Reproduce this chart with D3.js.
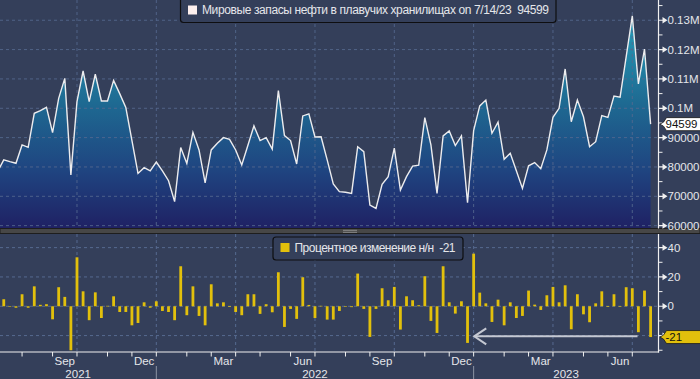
<!DOCTYPE html>
<html>
<head>
<meta charset="utf-8">
<script src="https://cdn.jsdelivr.net/npm/d3@7"></script>
<style>
  body { margin: 0; background: #343f5a; }
  svg { display: block; font-family: "Liberation Sans", Arial, sans-serif; }
  text { white-space: pre; }
</style>
</head>
<body>
<div id="chart"></div>
<script>
// Weekly floating storage (barrels), first point is just off the left edge
var firstWeek = new Date(2021, 5, 25),
    lastWeek = new Date(2023, 6, 14);
var dates = d3.timeFriday.range(firstWeek, d3.timeDay.offset(lastWeek, 1));

var storage = [78500,
  82400, 81800, 81250, 87500, 86700, 98300, 99200, 100300, 91700, 103400,
  110200, 77300, 102300, 112700, 102300, 111600, 102500, 102500, 109500, 105000,
  100300, 89100, 77800, 79750, 78700, 81700, 78700, 75300, 68200, 86600,
  81200, 91800, 85800, 74600, 85800, 88100, 90000, 89400, 85800, 80700,
  87300, 94000, 89000, 90000, 86100, 106000, 90700, 89000, 81000, 97400,
  98100, 90200, 90300, 82400, 74200, 71600, 71400, 71000, 86900, 85200,
  67000, 65900, 74100, 76700, 86400, 72100, 76700, 80300, 80600, 96800,
  87500, 71000, 90600, 92300, 87300, 90600, 67800, 92400, 100800, 102800,
  91500, 95300, 82600, 84700, 78700, 72700, 80400, 81500, 79400, 85800,
  96900, 100000, 113400, 95400, 102800, 97100, 86900, 88600, 97500, 96900,
  104200, 103800, 117600, 131500, 108300, 120200, 94599];

// Week-over-week change, %
var weeklyChange = [null,
  4.8, -0.2, -1, 8.2, -1, 13.6, 1, 1.4, -8.9, 13,
  6.4, -30, 33.4, 10.2, -9.5, 9.5, -8, 0.3, 6.8, -3.9,
  -3.9, -13, -11.4, 2.7, -1, 3.4, -3.2, -3.9, -9.5, 27.3,
  -6.1, 13.6, -6.6, -13, 15, 2, 2.7, -0.5, -3.9, -6.1,
  8.2, 8.2, -5.2, 1.4, -4.1, 23.2, -14.1, -1.8, -8.6, 19.8,
  0.9, -8, 0.3, -9.1, -9.1, -3.2, -0.3, -0.6, 22.3, -1.8,
  -20.9, -1.8, 12.3, 4.1, 13.2, -15.9, 6.8, 4.1, 0.7, 20.5,
  -10, -18.2, 27.3, 2.7, -5, 3.4, -25, 35.9, 9.3, 2,
  -10.7, 4.5, -13, 2.7, -8, -6.6, 10.7, 1.1, -2.5, 7.5,
  13.2, 2.7, 14.3, -15.7, 8.2, -5.5, -10.9, 2, 10.2, -0.5,
  8.2, -0.4, 13, 12.3, -17.7, 10.7, -21];

var storageTicks = [60000, 70000, 80000, 90000, 100000, 110000, 120000, 130000];
var storageMinor = [65000, 75000, 85000, 95000, 105000, 115000, 125000, 135000];
var changeTicks = [-20, 0, 20, 40];
var changeLabels = [0, 20, 40];   // -20 sits under the last-value tag
var changeMinor = [-30, -10, 10, 30];
var monthLabels = ["Sep", "Dec", "Mar", "Jun"];
var years = ["2021", "2022", "2023"];

var titleTop = "Мировые запасы нефти в плавучих хранилищах on 7/14/23  94599";
var titleBottom = "Процентное изменение н/н  -21";

var W = 700, H = 379,
    axisX = 658.5,
    panelTop = {y0: 0, y1: 228},
    panelBot = {y0: 234, y1: 352};

var bg = "#343f5a", gridColor = "#566a90", textColor = "#e4e6ea", barColor = "#e2c00c";

var data = dates.map(function (d, i) {
  return {date: d, value: storage[i], change: weeklyChange[i]};
});

var x = d3.scaleTime()
  .domain([dates[1], dates[dates.length - 1]])
  .range([3.76, 650.6]);

var yTop = d3.scaleLinear().domain([59200, 136900]).range([panelTop.y1, panelTop.y0]);
var yBot = d3.scaleLinear().domain([-31.2, 49.3]).range([panelBot.y1, panelBot.y0]);

// month ticks sit on the weekly grid
function tickX(m) {
  return x(d3.timeDay.offset(d3.timeSunday.ceil(m), -9));
}
var months = d3.timeMonth.range(new Date(2021, 7, 1), new Date(2023, 7, 1));
var quarters = months.filter(function (m) { return m.getMonth() % 3 === 0; });

var svg = d3.select("#chart").append("svg")
  .attr("width", W).attr("height", H);

svg.append("rect").attr("width", W).attr("height", H).attr("fill", bg);

var defs = svg.append("defs");
var grad = defs.append("linearGradient")
  .attr("id", "areaFill")
  .attr("gradientUnits", "userSpaceOnUse")
  .attr("x1", 0).attr("y1", panelTop.y0).attr("x2", 0).attr("y2", panelTop.y1);
grad.append("stop").attr("offset", 0).attr("stop-color", "#28a6c0");
grad.append("stop").attr("offset", 0.45).attr("stop-color", "#1e6a92");
grad.append("stop").attr("offset", 0.75).attr("stop-color", "#1f4480");
grad.append("stop").attr("offset", 1).attr("stop-color", "#1f2164");

defs.append("clipPath").attr("id", "clipTop")
  .append("rect").attr("x", 0).attr("y", panelTop.y0).attr("width", axisX).attr("height", panelTop.y1 - panelTop.y0);
defs.append("clipPath").attr("id", "clipBot")
  .append("rect").attr("x", 0).attr("y", panelBot.y0).attr("width", axisX).attr("height", panelBot.y1 - panelBot.y0);

// Gridlines
function grid(g, yScale, ticks, panel) {
  g.selectAll("line.h").data(ticks).join("line")
    .attr("class", "h")
    .attr("x1", 0).attr("x2", axisX)
    .attr("y1", function (d) { return yScale(d); })
    .attr("y2", function (d) { return yScale(d); });
  g.selectAll("line.v").data(quarters).join("line")
    .attr("class", "v")
    .attr("x1", tickX).attr("x2", tickX)
    .attr("y1", panel.y0).attr("y2", panel.y1);
  g.selectAll("line")
    .attr("stroke", gridColor)
    .attr("stroke-width", 1)
    .attr("stroke-dasharray", "3,3");
}

// Top panel: area, grid on top of it, then the line
var area = d3.area()
  .x(function (d) { return x(d.date); })
  .y0(panelTop.y1)
  .y1(function (d) { return yTop(d.value); });
var line = d3.line()
  .x(function (d) { return x(d.date); })
  .y(function (d) { return yTop(d.value); });

svg.append("g").attr("clip-path", "url(#clipTop)")
  .append("path").datum(data).attr("d", area).attr("fill", "url(#areaFill)");
grid(svg.append("g").attr("opacity", 0.85), yTop, storageTicks, panelTop);
svg.append("g").attr("clip-path", "url(#clipTop)")
  .append("path").datum(data).attr("d", line)
  .attr("fill", "none").attr("stroke", "#ececee").attr("stroke-width", 1.4)
  .attr("stroke-linejoin", "miter");

// Bottom panel: bars
grid(svg.append("g"), yBot, changeTicks, panelBot);
var barW = 2.8;
svg.append("g").attr("clip-path", "url(#clipBot)")
  .selectAll("rect").data(data.filter(function (d) { return d.change !== null; })).join("rect")
  .attr("x", function (d) { return x(d.date) - barW / 2; })
  .attr("width", barW)
  .attr("y", function (d) { return yBot(Math.max(0, d.change)); })
  .attr("height", function (d) { return Math.max(0.6, Math.abs(yBot(d.change) - yBot(0))); })
  .attr("fill", barColor);

// Arrow annotation pointing back to the December low
var arrowY = yBot(-20.5);
var arrowX0 = x(dates[78]) + 0.6, arrowX1 = x(dates[106]) - 7;
var gArrow = svg.append("g").attr("stroke", "#c4c8d2").attr("stroke-width", 2).attr("fill", "none");
gArrow.append("line").attr("x1", arrowX0).attr("x2", arrowX1).attr("y1", arrowY).attr("y2", arrowY);
gArrow.append("path")
  .attr("d", "M" + (arrowX0 + 12) + "," + (arrowY - 8) + "L" + arrowX0 + "," + arrowY + "L" + (arrowX0 + 12) + "," + (arrowY + 8));

// Separator between panels
svg.append("rect").attr("x", 0).attr("y", panelTop.y1 + 0.5).attr("width", W).attr("height", panelBot.y0 - panelTop.y1 - 1)
  .attr("fill", "#474747").attr("stroke", "#1e1e1e").attr("stroke-width", 1);
[230.3, 232.3].forEach(function (yy) {
  svg.append("line").attr("x1", 343).attr("x2", 357).attr("y1", yy).attr("y2", yy)
    .attr("stroke", "#9a9a9a").attr("stroke-width", 0.8);
});

// Right axes
function rightAxis(yScale, ticks, labels, minor, panel, fmt) {
  var g = svg.append("g");
  g.append("line").attr("x1", axisX).attr("x2", axisX)
    .attr("y1", panel.y0).attr("y2", panel.y1 + 0.5)
    .attr("stroke", "#f0f0f0").attr("stroke-width", 1.2);
  g.selectAll("line.minor").data(minor).join("line")
    .attr("class", "minor")
    .attr("x1", axisX).attr("x2", axisX + 4)
    .attr("y1", function (d) { return yScale(d); })
    .attr("y2", function (d) { return yScale(d); })
    .attr("stroke", "#f0f0f0").attr("stroke-width", 1);
  g.selectAll("path.major").data(ticks).join("path")
    .attr("class", "major")
    .attr("d", function (d) {
      var yy = yScale(d);
      return "M" + axisX + "," + (yy - 0.6) + "h4v-2.6l5,3.2l-5,3.2v-2.6h-4z";
    })
    .attr("fill", "#f0f0f0");
  g.selectAll("text").data(labels).join("text")
    .attr("x", axisX + 9)
    .attr("y", function (d) { return yScale(d); })
    .attr("dy", "0.36em")
    .attr("fill", textColor)
    .attr("font-size", 11.5)
    .text(fmt);
}
rightAxis(yTop, storageTicks, storageTicks, storageMinor, panelTop, function (d) {
  return d >= 100000 ? +(d / 1e6).toFixed(2) + "M" : d;
});
rightAxis(yBot, changeTicks, changeLabels, changeMinor, panelBot, function (d) { return d; });

// Last value tags
function valueTag(yy, fill, label) {
  var g = svg.append("g");
  g.append("path")
    .attr("d", "M" + (axisX + 8) + "," + (yy - 6.5) + "H" + (W + 2) + "V" + (yy + 6.5) + "H" + (axisX + 8)
      + "L" + (axisX + 5) + "," + (yy + 2) + "L" + (axisX + 1.5) + "," + yy + "L" + (axisX + 5) + "," + (yy - 2) + "Z")
    .attr("fill", fill).attr("stroke", "#1a1a1a").attr("stroke-width", 0.8);
  g.append("text").attr("x", axisX + 7).attr("y", yy).attr("dy", "0.36em")
    .attr("fill", "#111").attr("font-size", 11.5).text(label);
}
valueTag(yTop(storage[storage.length - 1]), "#ffffff", storage[storage.length - 1]);
valueTag(yBot(weeklyChange[weeklyChange.length - 1]), barColor, weeklyChange[weeklyChange.length - 1]);

// Bottom time axis
var gx = svg.append("g");
gx.append("line").attr("x1", 0).attr("x2", axisX + 0.6).attr("y1", panelBot.y1).attr("y2", panelBot.y1)
  .attr("stroke", "#f0f0f0").attr("stroke-width", 1.2);
gx.selectAll("line.tick").data(months).join("line")
  .attr("class", "tick")
  .attr("x1", tickX).attr("x2", tickX)
  .attr("y1", panelBot.y1).attr("y2", panelBot.y1 + 4.5)
  .attr("stroke", "#f0f0f0").attr("stroke-width", 1);
gx.selectAll("text.month")
  .data(months.filter(function (m) { return monthLabels.indexOf(d3.timeFormat("%b")(m)) >= 0; }))
  .join("text")
  .attr("class", "month")
  .attr("x", function (m) { return (tickX(m) + tickX(d3.timeMonth.offset(m, 1))) / 2; })
  .attr("y", 360.5).attr("dy", "0.36em")
  .attr("text-anchor", "middle")
  .attr("fill", textColor).attr("font-size", 11.5)
  .text(d3.timeFormat("%b"));

var yearStarts = [new Date(2022, 0, 1), new Date(2023, 0, 1)];
var yearBounds = [0].concat(yearStarts.map(tickX), [axisX]);
gx.selectAll("line.year").data(yearStarts).join("line")
  .attr("class", "year")
  .attr("x1", tickX).attr("x2", tickX)
  .attr("y1", 366).attr("y2", H)
  .attr("stroke", "#8c93a3").attr("stroke-width", 1);
gx.selectAll("text.year").data(years).join("text")
  .attr("class", "year")
  .attr("x", function (d, i) { return (yearBounds[i] + yearBounds[i + 1]) / 2; })
  .attr("y", 373.5).attr("dy", "0.36em")
  .attr("text-anchor", "middle")
  .attr("fill", textColor).attr("font-size", 11.5)
  .text(function (d) { return d; });

// Legends
function legend(x0, y0, w, h, swatch, label, textW) {
  var g = svg.append("g");
  g.append("rect").attr("x", x0).attr("y", y0).attr("width", w).attr("height", h).attr("rx", 3)
    .attr("fill", bg).attr("stroke", "#0e0e10").attr("stroke-width", 1.2);
  g.append("rect").attr("x", x0 + 7.5).attr("y", y0 + h - 17).attr("width", 9).attr("height", 9)
    .attr("fill", swatch);
  g.append("text").attr("x", x0 + 21.5).attr("y", y0 + h - 12.5).attr("dy", "0.36em")
    .attr("fill", textColor).attr("font-size", 12)
    .attr("textLength", textW).attr("lengthAdjust", "spacing")
    .text(label);
}
legend(180.5, -6, 375.5, 28.5, "#fdf0ee", titleTop, 347);
legend(273, 237, 190, 23, barColor, titleBottom, 161);
</script>
</body>
</html>
